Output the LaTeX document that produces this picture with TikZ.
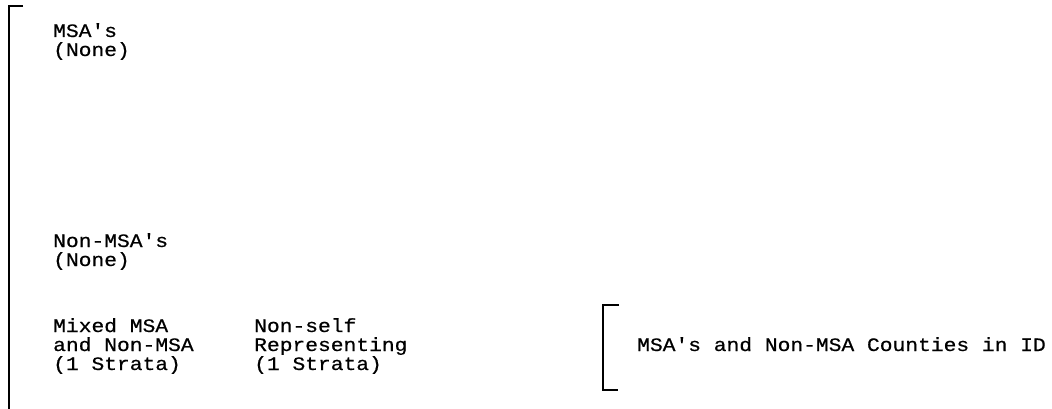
\documentclass[tikz,border=0pt]{standalone}
\usepackage{fontspec}
\setmonofont[FakeStretch=1.12,FakeBold=0.6]{Liberation Mono}
\usetikzlibrary{positioning}
\tikzset{
    label/.style={anchor=base west, inner sep=0pt,
        font=\ttfamily\fontsize{19pt}{19pt}\selectfont},
    bracket/.style={line width=1.8pt}
}
% one text block, one node per line, 19pt apart
\def\Block#1#2#3#4{
    \foreach \txt [count=\i] in {#4}
        \node[label] (#1-\i) at (#2,{#3+19*(\i-1)}) {\txt};
}
\begin{document}
\begin{tikzpicture}[x=1pt,y=-1pt]
    \useasboundingbox (0,0) rectangle (1052,409);
    \Block{msa}{53}{37}{MSA's,(None)}
    \Block{nonmsa}{53}{247}{Non-MSA's,(None)}
    \Block{mixed}{53}{332}{Mixed MSA,and Non-MSA,(1 Strata)}
    \Block{nsr}{254}{332}{Non-self,Representing,(1 Strata)}
    \node[label] (counties) at (637,351) {MSA's and Non-MSA Counties in ID};

    % brackets
    \draw[bracket] (23,6) -- (9,6) -- (9,409);
    \draw[bracket] (619,305) -- (603,305) -- (603,390) -- (618,390);
\end{tikzpicture}
\end{document}
